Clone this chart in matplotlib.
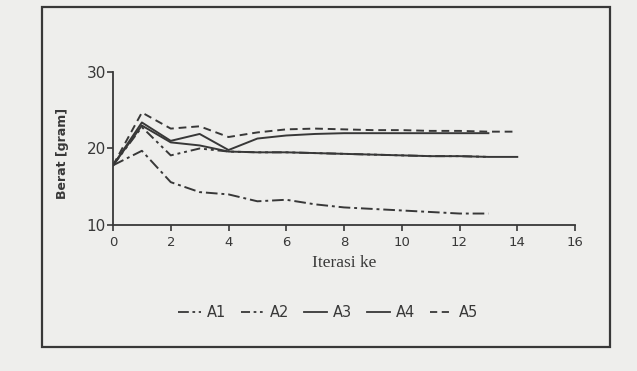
import numpy as np
import matplotlib.pyplot as plt
from matplotlib.patches import Rectangle
from matplotlib.lines import Line2D

# data
iterasi = list(range(0, 15))
a1 = [17.8, 19.7, 15.6, 14.3, 14.0, 13.1, 13.3, 12.7, 12.3, 12.1, 11.9, 11.7, 11.5, 11.5]
a2 = [17.8, 22.8, 19.1, 20.0, 19.6, 19.5, 19.5, 19.4, 19.3, 19.2, 19.1, 19.0, 19.0, 18.9]
a3 = [17.8, 23.0, 20.8, 20.4, 19.6, 19.5, 19.5, 19.4, 19.3, 19.2, 19.1, 19.0, 19.0, 18.9, 18.9]
a4 = [17.8, 23.4, 21.0, 21.9, 19.8, 21.3, 21.7, 21.9, 22.0, 22.0, 22.0, 22.0, 22.0, 22.0]
a5 = [17.8, 24.7, 22.6, 22.9, 21.5, 22.1, 22.5, 22.6, 22.5, 22.4, 22.4, 22.3, 22.3, 22.2, 22.2]

names = ["A1", "A2", "A3", "A4", "A5"]
ink = "#383838"
bg = "#eeeeec"

fig = plt.figure(figsize=(6.37, 3.71), dpi=100, facecolor=bg)

# outer box round the whole figure
fig.patches.append(Rectangle((0.066, 0.065), 0.892, 0.916, transform=fig.transFigure,
                             fill=False, edgecolor=ink, linewidth=1.6))

ax = fig.add_axes([0.1774, 0.3935, 0.7253, 0.4125])
ax.set_facecolor(bg)

styles = [(0, (6, 2, 1.5, 2)), (0, (5, 2, 1.5, 2, 1.5, 2)), "-", "-", (0, (4, 2.5))]
series = [a1, a2, a3, a4, a5]
for vals, ls, nm in zip(series, styles, names):
    ax.plot(iterasi[:len(vals)], vals, color=ink, linestyle=ls, linewidth=1.4, label=nm)

ax.set_xlim(0, 16)
ax.set_ylim(10, 30)
ax.set_xticks(np.arange(0, 17, 2))
ax.set_yticks([10, 20, 30])
for s in ["top", "right"]:
    ax.spines[s].set_visible(False)
for s in ["left", "bottom"]:
    ax.spines[s].set_color(ink)
    ax.spines[s].set_linewidth(1.3)
ax.tick_params(colors=ink, length=4, width=1.2)
ax.tick_params(axis="x", labelsize=9.5, pad=4)
ax.tick_params(axis="y", labelsize=11, pad=1)
for t in ax.get_xticklabels() + ax.get_yticklabels():
    t.set_family("DejaVu Sans")
    t.set_color(ink)

ax.set_ylabel("Berat [gram]", fontsize=9, fontweight="bold", color=ink)
ax.yaxis.set_label_coords(-0.095, 0.47)
ax.set_xlabel("Iterasi ke", fontsize=12.5, family="Liberation Serif", color=ink, labelpad=4)

handles = [Line2D([], [], color=ink, linestyle=ls, linewidth=1.3) for ls in styles]
fig.legend(handles, names, loc="center", bbox_to_anchor=(0.515, 0.158), ncol=5,
           frameon=False, fontsize=10.5, handlelength=1.6, handletextpad=0.4,
           columnspacing=1.0, labelcolor=ink)

fig.savefig("out.png", dpi=100, facecolor=bg)
